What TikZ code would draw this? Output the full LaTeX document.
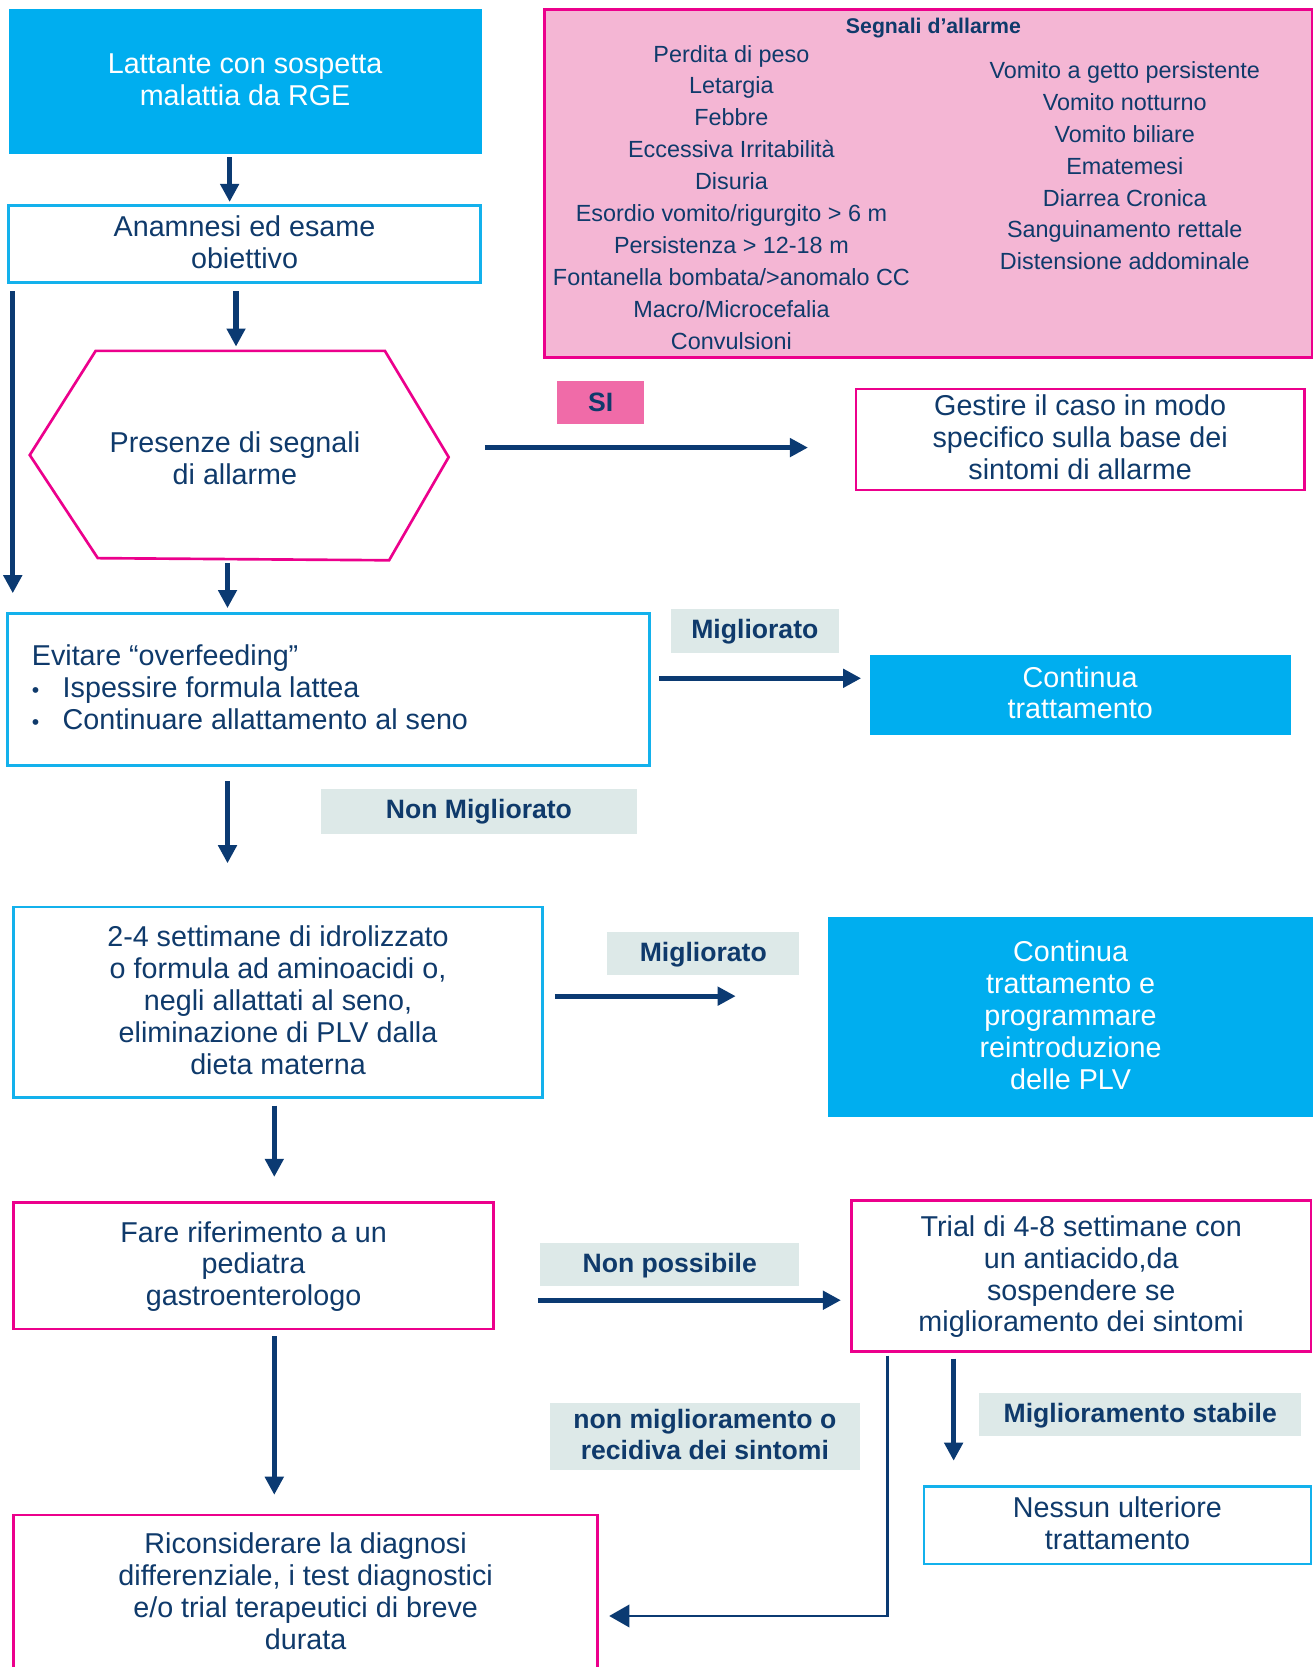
\documentclass[tikz,border=0pt]{standalone}
\usepackage{fontspec}
\setmainfont{Liberation Sans}
\usetikzlibrary{arrows.meta}
\definecolor{cyanf}{HTML}{00AEEF}
\definecolor{cyanb}{HTML}{13B1EC}
\definecolor{mag}{HTML}{EC008C}
\definecolor{pinkf}{HTML}{F4B6D4}
\definecolor{sipink}{HTML}{F06BA8}
\definecolor{lblf}{HTML}{DDE9E8}
\definecolor{navy}{HTML}{0F3A6B}
\definecolor{arrnavy}{HTML}{0B3A72}
\tikzset{
 base/.style={inner sep=0pt, outer sep=0pt, align=center, text=navy, font=\fontsize{27}{30}\selectfont},
 cbox/.style={base, draw=cyanb, line width=2.5pt, fill=white, text depth=4pt},
 mbox/.style={base, draw=mag, line width=2.5pt, fill=white, text depth=4pt},
 fbox/.style={base, fill=cyanf, text=white, text depth=4pt},
 lbl/.style={base, fill=lblf, font=\bfseries\fontsize{25}{29}\selectfont, text depth=4pt},
 small/.style={base, font=\fontsize{22}{30}\selectfont},
 arr/.style={draw=arrnavy, line width=5pt, -{Triangle[width=17pt,length=17pt]}},
 tarr/.style={draw=arrnavy, line width=2.5pt, -{Triangle[width=21pt,length=19pt]}},
}
\begin{document}
\begin{tikzpicture}[x=1pt,y=-1pt]
\useasboundingbox[fill=white] (0,0) rectangle (1235,1568);
\clip (0,0) rectangle (1235,1568);

% top-left boxes
\node[fbox, minimum width=445pt, minimum height=137pt] (b1) at (230.5,76.5) {Lattante con sospetta\\malattia da RGE};
\node[cbox, minimum width=444pt, minimum height=73pt] (b2) at (230,229.5) {Anamnesi ed esame\\obiettivo};

% alarm signs box
\node[base, draw=mag, fill=pinkf, line width=2.5pt, minimum width=722pt, minimum height=327pt] (alarm) at (873,172.5) {};
\node[base, font=\bfseries\fontsize{20}{24}\selectfont] (alarmt) at (878,26.5) {Segnali d'allarme};
\node[small] (alarml) at (688,185.5) {Perdita di peso\\Letargia\\Febbre\\Eccessiva Irritabilità\\Disuria\\Esordio vomito/rigurgito > 6 m\\Persistenza > 12-18 m\\Fontanella bombata/>anomalo CC\\Macro/Microcefalia\\Convulsioni};
\node[small] (alarmr) at (1058,156) {Vomito a getto persistente\\Vomito notturno\\Vomito biliare\\Ematemesi\\Diarrea Cronica\\Sanguinamento rettale\\Distensione addominale};

% hexagon
\draw[mag, line width=2.5pt, line join=miter] (28,428) -- (90,330) -- (362,330) -- (422,430) -- (366,527) -- (92,525) -- cycle;
\node[base] (hex) at (221,431) {Presenze di segnali\\di allarme};

\node[base, fill=sipink, minimum width=82pt, minimum height=41pt, font=\bfseries\fontsize{25}{29}\selectfont] (si) at (565,378.5) {SI};
\node[mbox, minimum width=422pt, minimum height=95pt] (gest) at (1016,413.5) {Gestire il caso in modo\\specifico sulla base dei\\sintomi di allarme};

% evitare
\node[base, draw=cyanb, line width=2.5pt, fill=white, minimum width=604pt, minimum height=143pt] (evit) at (309,648.5) {\raisebox{2pt}[\height][\depth]{\parbox{558pt}{\raggedright Evitare “overfeeding”\\\makebox[29pt][l]{\fontsize{20}{20}\selectfont\textbullet}Ispessire formula lattea\\\makebox[29pt][l]{\fontsize{20}{20}\selectfont\textbullet}Continuare allattamento al seno}}};
\node[lbl, minimum width=158pt, minimum height=41pt] (migl1) at (710,593.5) {Migliorato};
\node[fbox, minimum width=396pt, minimum height=75pt] (cont1) at (1016,653.5) {Continua\\trattamento};
\node[lbl, minimum width=297pt, minimum height=42pt] (nonmig) at (450.5,763) {Non Migliorato};

% settimane
\node[cbox, minimum width=497pt, minimum height=179pt] (sett) at (261.5,942.5) {2-4 settimane di idrolizzato\\o formula ad aminoacidi o,\\negli allattati al seno,\\eliminazione di PLV dalla\\dieta materna};
\node[lbl, minimum width=181pt, minimum height=40pt] (migl2) at (661.5,897) {Migliorato};
\node[fbox, minimum width=456pt, minimum height=188pt] (cont2) at (1007,957) {Continua\\trattamento e\\programmare\\reintroduzione\\delle PLV};

% fare riferimento
\node[mbox, minimum width=451pt, minimum height=119pt] (fare) at (238.5,1190.5) {Fare riferimento a un\\pediatra\\gastroenterologo};
\node[lbl, minimum width=244pt, minimum height=41pt] (nonposs) at (630,1189.5) {Non possibile};
\node[mbox, minimum width=432pt, minimum height=142pt] (trial) at (1017,1200) {Trial di 4-8 settimane con\\un antiacido,da\\sospendere se\\miglioramento dei sintomi};
\node[lbl, minimum width=303pt, minimum height=41pt] (mstab) at (1072.5,1330.5) {Miglioramento stabile};
\node[lbl, minimum width=292pt, minimum height=63pt] (nmrec) at (663,1351.5) {non miglioramento o\\recidiva dei sintomi};
\node[cbox, minimum width=364pt, minimum height=73pt] (nessun) at (1051,1434.5) {Nessun ulteriore\\trattamento};
\node[mbox, minimum width=549pt, minimum height=147pt] (ricon) at (287.5,1498.5) {Riconsiderare la diagnosi\\differenziale, i test diagnostici\\e/o trial terapeutici di breve\\durata};

% connector end points
\coordinate (a1s) at (216,148);  \coordinate (a1e) at (216,190);
\coordinate (a2s) at (12,274);   \coordinate (a2e) at (12,558);
\coordinate (a3s) at (222,274);  \coordinate (a3e) at (222,326);
\coordinate (a4s) at (456,421);  \coordinate (a4e) at (760,421);
\coordinate (a5s) at (214,530);  \coordinate (a5e) at (214,572);
\coordinate (a6s) at (620,638);  \coordinate (a6e) at (810,638);
\coordinate (a7s) at (214,735);  \coordinate (a7e) at (214,812);
\coordinate (a8s) at (522,937);  \coordinate (a8e) at (692,937);
\coordinate (a9s) at (258,1040); \coordinate (a9e) at (258,1107);
\coordinate (a10s) at (506,1223); \coordinate (a10e) at (791,1223);
\coordinate (a11s) at (258,1257); \coordinate (a11e) at (258,1406);
\coordinate (a12s) at (897,1278); \coordinate (a12e) at (897,1374);
\coordinate (a13s) at (835,1275); \coordinate (a13e) at (573,1520);

\draw[arr] (a1s) -- (a1e);
\draw[arr] (a2s) -- (a2e);
\draw[arr] (a3s) -- (a3e);
\draw[arr] (a4s) -- (a4e);
\draw[arr] (a5s) -- (a5e);
\draw[arr] (a6s) -- (a6e);
\draw[arr] (a7s) -- (a7e);
\draw[arr] (a8s) -- (a8e);
\draw[arr] (a9s) -- (a9e);
\draw[arr] (a10s) -- (a10e);
\draw[arr] (a11s) -- (a11e);
\draw[arr] (a12s) -- (a12e);
\draw[tarr] (a13s) |- (a13e);
\end{tikzpicture}
\end{document}
